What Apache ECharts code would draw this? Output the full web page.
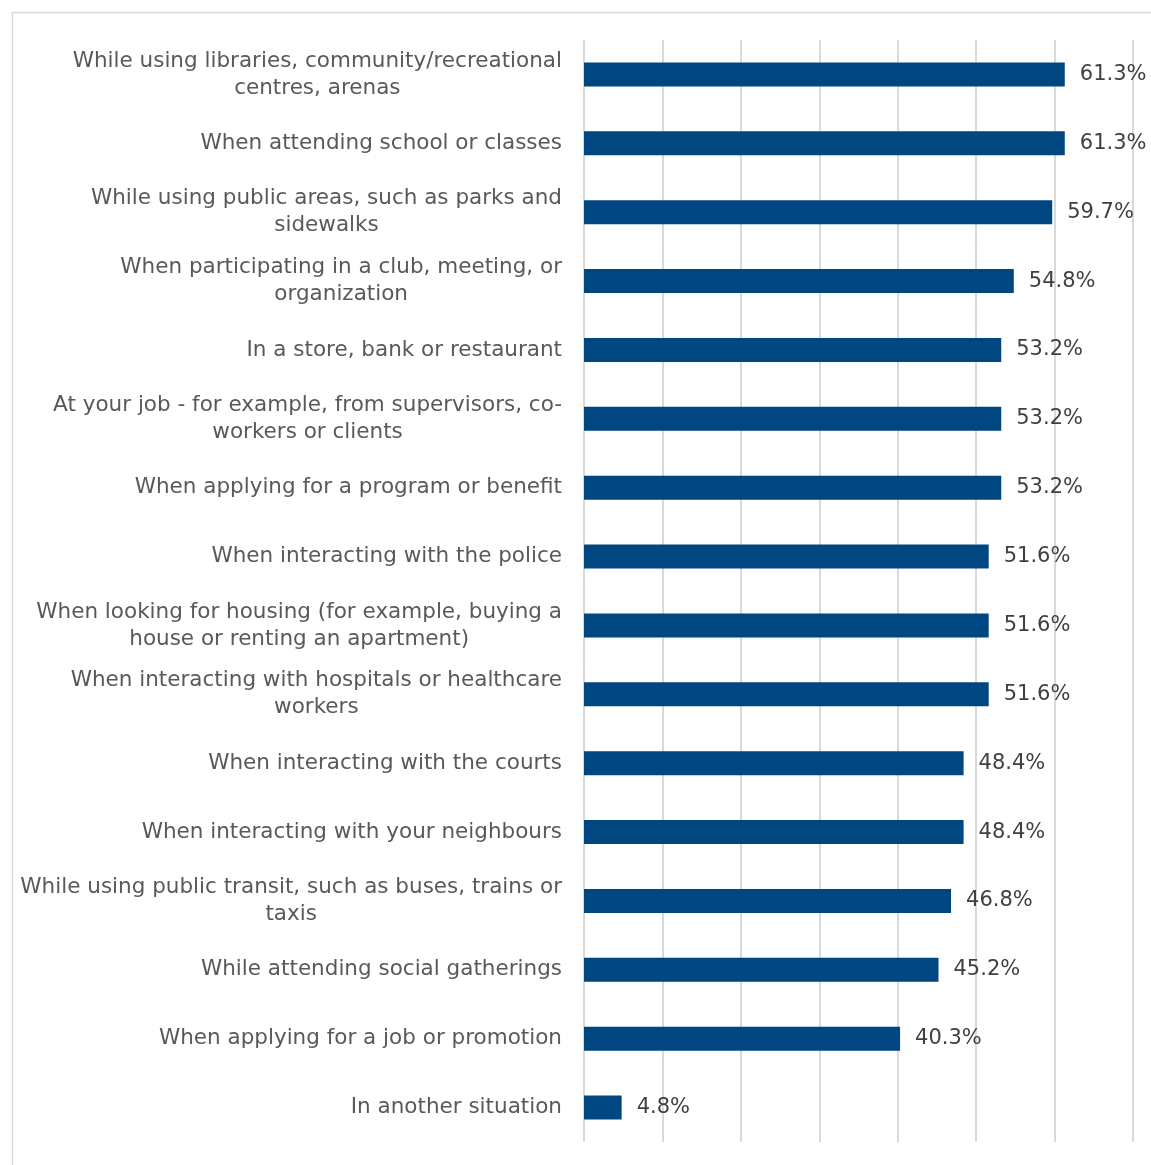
<!DOCTYPE html>
<html><head><meta charset="utf-8">
<script src="https://cdn.jsdelivr.net/npm/echarts@6/dist/echarts.min.js"></script>
<style>html,body{margin:0;padding:0;background:#fff}#c{width:1151px;height:1165px}</style>
</head><body><div id="c"></div>
<script>
const categories = [
  "While using libraries, community/recreational\ncentres, arenas",
  "When attending school or classes",
  "While using public areas, such as parks and\nsidewalks",
  "When participating in a club, meeting, or\norganization",
  "In a store, bank or restaurant",
  "At your job - for example, from supervisors, co-\nworkers or clients",
  "When applying for a program or benefit",
  "When interacting with the police",
  "When looking for housing (for example, buying a\nhouse or renting an apartment)",
  "When interacting with hospitals or healthcare\nworkers",
  "When interacting with the courts",
  "When interacting with your neighbours",
  "While using public transit, such as buses, trains or\ntaxis",
  "While attending social gatherings",
  "When applying for a job or promotion",
  "In another situation"
];
const values = [61.3, 61.3, 59.7, 54.8, 53.2, 53.2, 53.2, 51.6, 51.6, 51.6, 48.4, 48.4, 46.8, 45.2, 40.3, 4.8];

const FONT = 'DejaVu Sans';
const FS = 21.5;
const cv = document.createElement('canvas').getContext('2d');
cv.font = FS + 'px "' + FONT + '"';
const yData = categories.map(c => {
  const w = Math.max(...c.split('\n').map(s => cv.measureText(s).width));
  return {value: c, textStyle: {align: 'center', padding: [0, w, 0, 0]}};
});

const chart = echarts.init(document.getElementById('c'), null, {renderer: 'canvas'});
chart.setOption({
  animation: false,
  backgroundColor: '#fff',
  textStyle: {fontFamily: FONT},
  graphic: [{type: 'rect', left: 10, top: 10, shape: {width: 1160, height: 1170}, style: {fill: 'none', stroke: '#d9d9d9', lineWidth: 1.5}, silent: true}],
  grid: {left: 584, right: 18, top: 40, bottom: 23, containLabel: false},
  xAxis: {
    type: 'value', min: 0, max: 70, interval: 10,
    axisLabel: {show: false}, axisLine: {show: false}, axisTick: {show: false},
    splitLine: {show: true, lineStyle: {color: '#d9d9d9', width: 2}}
  },
  yAxis: {
    type: 'category', inverse: true, data: yData,
    axisLine: {show: false}, axisTick: {show: false},
    axisLabel: {color: '#595959', fontSize: FS, lineHeight: 27, margin: 22, fontFamily: FONT}
  },
  series: [{
    type: 'bar', data: values, barWidth: 24,
    itemStyle: {color: '#004680'},
    label: {show: true, position: 'right', distance: 15, color: '#404040', fontSize: 21, fontFamily: FONT,
      formatter: p => p.value.toFixed(1) + '%'}
  }]
});
</script></body></html>
